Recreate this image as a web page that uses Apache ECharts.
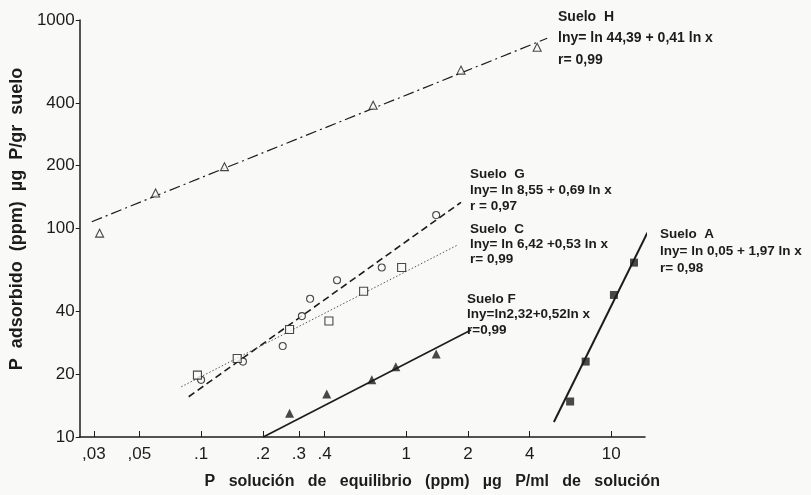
<!DOCTYPE html>
<html>
<head>
<meta charset="utf-8">
<script src="https://cdn.jsdelivr.net/npm/echarts@6/dist/echarts.min.js"></script>
<style>
html,body{margin:0;padding:0;background:#f9f9f8;}
#chart{width:811px;height:495px;}
</style>
</head>
<body>
<div id="chart"></div>
<script>
// ---- tick values and labels ----
const xTickValues = [0.03, 0.05, 0.1, 0.2, 0.3, 0.4, 1, 2, 4, 10];
const xTickLabels = [',03', ',05', '.1', '.2', '.3', '.4', '1', '2', '4', '10'];
const yTickValues = [10, 20, 40, 100, 200, 400, 1000];
const yTickLabels = ['10', '20', '40', '100', '200', '400', '1000'];

// ---- observed points [P solución, P adsorbido] ----
const sueloH = [[0.032, 95], [0.06, 148], [0.13, 198], [0.69, 390], [1.85, 575], [4.35, 740]];
const sueloG = [[0.1, 18.8], [0.16, 23], [0.25, 27.3], [0.31, 38], [0.34, 46], [0.46, 56.5], [0.76, 65], [1.4, 116]];
const sueloC = [[0.096, 19.8], [0.15, 23.8], [0.27, 32.8], [0.42, 36], [0.62, 50], [0.95, 65]];
const sueloF = [[0.27, 13], [0.41, 16.1], [0.68, 18.8], [0.89, 21.7], [1.4, 25]];
const sueloA = [[6.3, 14.8], [7.5, 23], [10.3, 48], [12.9, 68.6]];

// ---- fitted line end points ----
const lineH = [[0.0293, 107.8], [4.87, 817]];
const lineG = [[0.087, 15.6], [1.85, 133.5]];
const lineC = [[0.080, 17.4], [1.78, 83.3]];
const lineF = [[0.201, 10], [2.07, 32.6]];
const lineA = [[5.25, 11.8], [15.0, 95.5]];

// ---- annotation texts ----
const textH = ['Suelo  H', 'lny= ln 44,39 + 0,41 ln x', 'r= 0,99'];
const textG = ['Suelo  G', 'lny= ln 8,55 + 0,69 ln x', 'r = 0,97'];
const textC = ['Suelo  C', 'lny= ln 6,42 +0,53 ln x', 'r= 0,99'];
const textF = ['Suelo F', 'lny=ln2,32+0,52ln x', 'r=0,99'];
const textA = ['Suelo  A', 'lny= ln 0,05 + 1,97 ln x', 'r= 0,98'];

const ink = '#1c1c1c';
const bg = '#f9f9f8';
const FONT = '"Liberation Sans", Arial, sans-serif';

function labelFor(vals, labels) {
  return function (v) {
    let best = 0, bd = Infinity;
    for (let i = 0; i < vals.length; i++) {
      const d = Math.abs(Math.log(v) - Math.log(vals[i]));
      if (d < bd) { bd = d; best = i; }
    }
    return bd < 0.01 ? labels[best] : '';
  };
}

function annot(lines, left, top, lh, size, weight) {
  return lines.map((t, i) => ({
    type: 'text', left: left, top: top + i * lh, z: 100,
    style: { text: t, fill: ink, font: weight + ' ' + size + 'px ' + FONT }
  }));
}

const chart = echarts.init(document.getElementById('chart'), null, { renderer: 'canvas' });

function lineSeries(data, type, width, color) {
  return {
    type: 'line', data: data, showSymbol: false, clip: false, silent: true,
    lineStyle: { color: color || ink, width: width, type: type }, z: 2
  };
}
function scatterSeries(data, symbol, size, filled) {
  return {
    type: 'scatter', data: data, symbol: symbol, symbolSize: size, clip: false, z: 3,
    itemStyle: filled ? { color: ink } : { color: bg, borderColor: ink, borderWidth: 1.1 }
  };
}

chart.setOption({
  backgroundColor: bg,
  animation: false,
  grid: { left: 77, right: 166, top: 20, bottom: 58, containLabel: false },
  xAxis: {
    type: 'log', logBase: 10, min: 0.0256, max: 14.6,
    name: 'P   solución   de   equilibrio   (ppm)   µg   P/ml   de   solución',
    nameLocation: 'middle', nameGap: 37,
    nameTextStyle: { color: ink, fontFamily: FONT, fontWeight: 'bold', fontSize: 16, padding: [0, 0, 0, 140] },
    axisLine: { show: true, onZero: false, lineStyle: { color: ink, width: 1.5 } },
    axisTick: { show: true, inside: true, length: 6, customValues: xTickValues, lineStyle: { color: ink, width: 1 } },
    axisLabel: { customValues: xTickValues, formatter: labelFor(xTickValues, xTickLabels), color: ink, fontFamily: FONT, fontSize: 17, margin: 9 },
    minorTick: { show: false },
    splitLine: { show: false }
  },
  yAxis: {
    type: 'log', logBase: 10, min: 10, max: 1000,
    name: 'P  adsorbido  (ppm)  µg  P/gr  suelo',
    nameLocation: 'middle', nameGap: 52, nameRotate: 90,
    nameTextStyle: { color: ink, fontFamily: FONT, fontWeight: 'bold', fontSize: 18, padding: [0, 0, 0, 19] },
    axisLine: { show: true, onZero: false, lineStyle: { color: ink, width: 1.5 } },
    axisTick: { show: true, inside: false, length: 4, customValues: yTickValues, lineStyle: { color: ink, width: 1 } },
    axisLabel: { customValues: yTickValues, formatter: labelFor(yTickValues, yTickLabels), color: ink, fontFamily: FONT, fontSize: 17, margin: 5, padding: [0, 0, 8, 0] },
    minorTick: { show: false },
    splitLine: { show: false }
  },
  series: [
    lineSeries(lineH, [11, 4, 2, 4], 1.2),
    lineSeries(lineG, [7, 4], 1.6),
    lineSeries(lineC, [1.5, 2], 1, '#555'),
    lineSeries(lineF, 'solid', 1.6),
    lineSeries(lineA, 'solid', 2),
    scatterSeries(sueloH, 'triangle', 8, false),
    scatterSeries(sueloG, 'circle', 7, false),
    scatterSeries(sueloC, 'rect', 8, false),
    scatterSeries(sueloF, 'triangle', 9, true),
    scatterSeries(sueloA, 'rect', 8, true)
  ],
  graphic: [].concat(
    annot(textH, 558, 10, 21.5, 14, 'bold'),
    annot(textG, 470, 167, 16, 13.5, 'bold'),
    annot(textC, 470, 222, 15, 13.5, 'bold'),
    annot(textF, 467, 292, 15.5, 13.5, 'bold'),
    annot(textA, 660, 227, 17, 13.5, 'bold')
  )
});
</script>
</body>
</html>
